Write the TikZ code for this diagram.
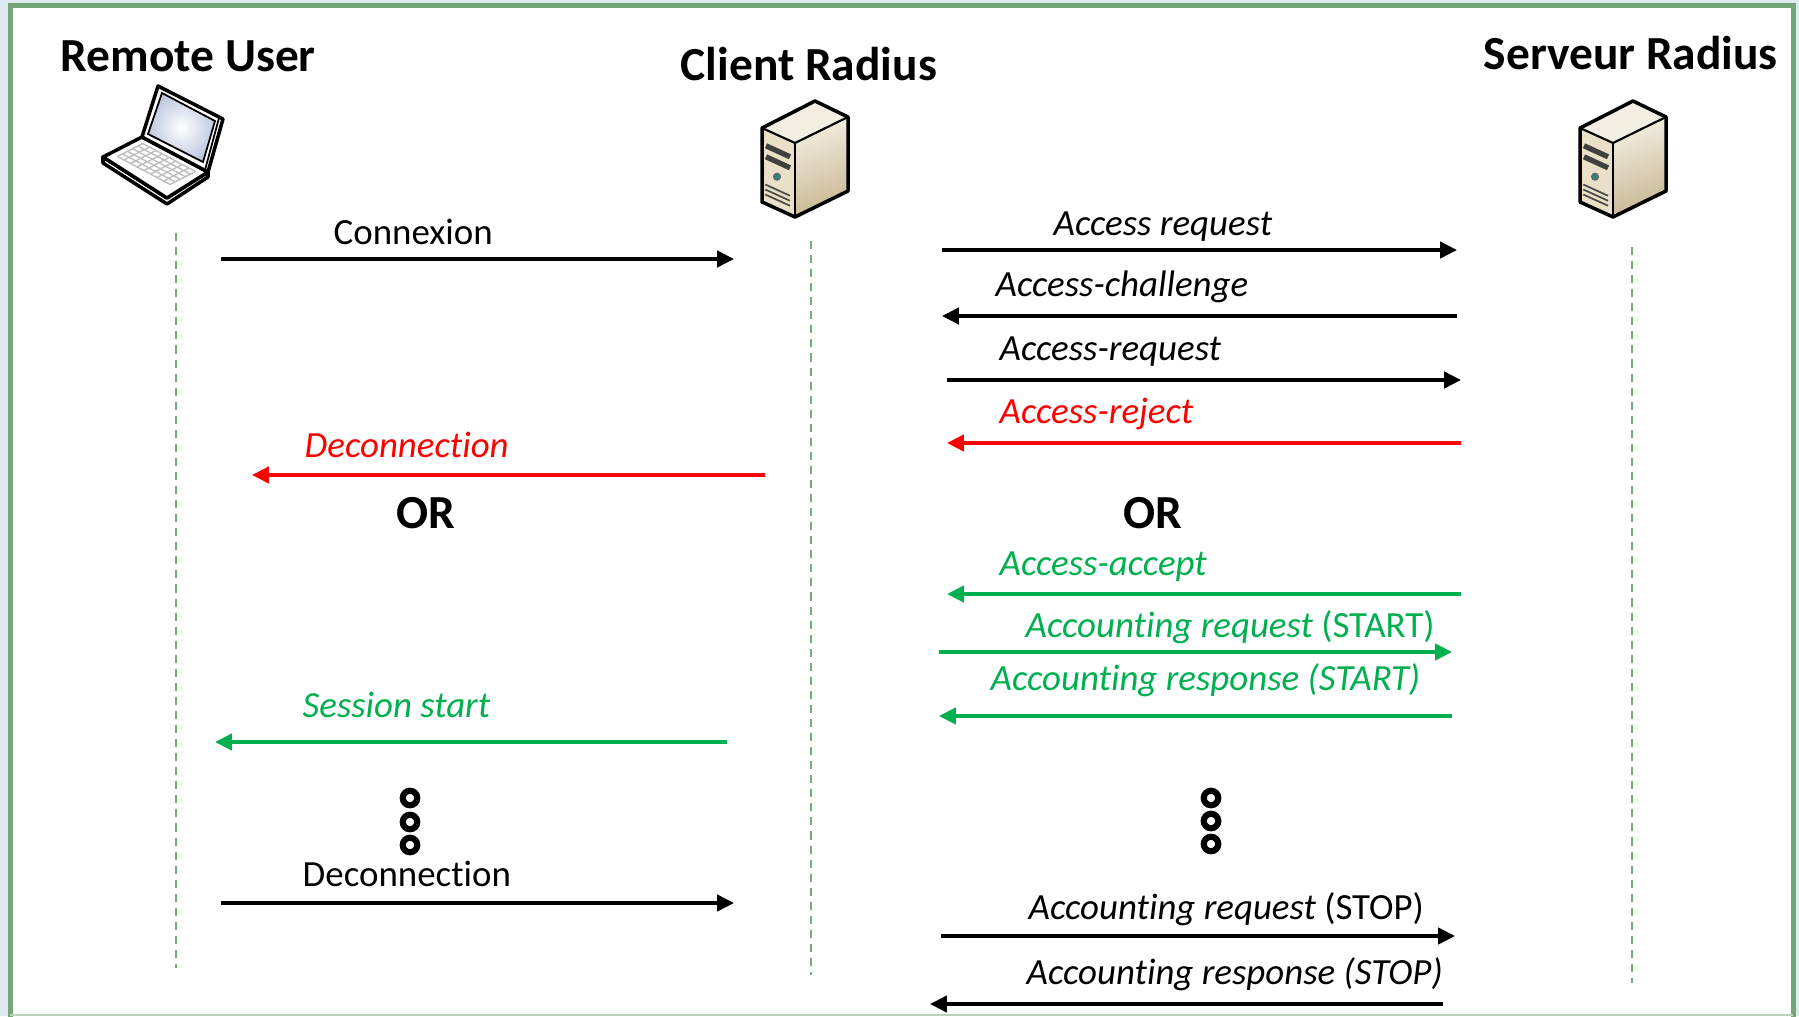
\documentclass[tikz,border=0pt]{standalone}
\usepackage{fontspec}
\setmainfont{Carlito}[Ligatures=NoCommon]
\usetikzlibrary{arrows.meta}
\pgfdeclarelayer{background}
\pgfdeclarelayer{edgelayer}
\pgfdeclarelayer{nodelayer}
\pgfsetlayers{background,edgelayer,nodelayer,main}
\definecolor{okgreen}{RGB}{0,176,80}
\definecolor{lifegreen}{RGB}{118,170,120}
\definecolor{framegreen}{RGB}{118,166,120}
\definecolor{paleblue}{RGB}{221,234,240}
\definecolor{screenblue}{RGB}{190,200,224}
\definecolor{caseside}{RGB}{200,183,146}
\definecolor{caselight}{RGB}{243,238,226}
\definecolor{casefront}{RGB}{234,224,200}
\tikzset{font=\fontsize{10.5}{12.6}\selectfont}
\tikzstyle{none}=[inner sep=0pt]
\tikzstyle{title}=[inner sep=0pt,anchor=base west,font=\fontsize{13.5}{16}\selectfont\bfseries]
\tikzstyle{orlabel}=[inner sep=0pt,anchor=base,font=\fontsize{13.5}{16}\selectfont\bfseries]
\tikzstyle{msglabel}=[inner sep=0pt,anchor=base west]
\tikzstyle{msg}=[line width=1.05pt,-{Triangle[length=4.8pt,width=4.6pt]}]
\tikzstyle{lifeline}=[lifegreen,line width=0.65pt,dash pattern=on 2.3pt off 1.7pt]
\tikzstyle{ring}=[circle,draw,line width=1.75pt,inner sep=0pt,minimum size=0.145cm]
% tower case, origin at the top corner
\tikzset{server/.pic={
	\fill[caselight] (0,0) -- (-0.53,-0.27) -- (-0.20,-0.42) -- (0.33,-0.16) -- cycle;
	\fill[casefront] (-0.53,-0.27) -- (-0.20,-0.42) -- (-0.20,-1.16) -- (-0.53,-1.01) -- cycle;
	\shade[top color=caselight,bottom color=caseside,shading angle=20] (-0.20,-0.42) -- (0.33,-0.16) -- (0.33,-0.90) -- (-0.20,-1.16) -- cycle;
	\draw[line width=1.5pt,black!75] (-0.49,-0.448) -- (-0.25,-0.558);
	\draw[line width=1.5pt,black!75] (-0.49,-0.558) -- (-0.25,-0.668);
	\filldraw[fill=teal!60!gray,draw=black!60,line width=0.3pt] (-0.38,-0.757) circle (0.035);
	\foreach \v in {0.55,0.60,0.65}
		\draw[line width=0.5pt,black!70] (-0.497,-0.285-\v) -- (-0.25,-0.3975-\v);
	\draw[line width=0.6pt] (-0.53,-0.27) -- (-0.20,-0.42) -- (0.33,-0.16);
	\draw[line width=0.6pt] (-0.20,-0.42) -- (-0.20,-1.16);
	\draw[line width=1pt,line join=round] (0,0) -- (-0.53,-0.27) -- (-0.53,-1.01) -- (-0.20,-1.16) -- (0.33,-0.90) -- (0.33,-0.16) -- cycle;
}}

\begin{document}
\begin{tikzpicture}
	\useasboundingbox (0,0) rectangle (17.99,-10.16);
	\begin{pgfonlayer}{background}
		\fill[paleblue] (0,0) rectangle (17.99,-10.16);
		\fill[white] (0.105,-0.055) rectangle (17.93,-10.16);
		\draw[framegreen,line width=0.05cm] (0.105,-10.2) -- (0.105,-0.055) -- (17.93,-0.055) -- (17.93,-10.2);
		\draw[framegreen!50,line width=0.02cm] (0.105,-10.15) -- (17.93,-10.15);
	\end{pgfonlayer}
	\begin{pgfonlayer}{nodelayer}
		% headers and icons
		\node [style=title] (h0) at (0.60,-0.71) {Remote User};
		\node [style=title] (h1) at (6.80,-0.80) {Client Radius};
		\node [style=title] (h2) at (14.83,-0.69) {Serveur Radius};
		\pic at (8.15,-1.01) {server};
		\pic at (16.33,-1.01) {server};
		% laptop
		\filldraw[fill=white,line width=1pt,line join=round] (1.03,-1.57) -- (1.67,-1.98) -- (2.08,-1.72) -- (2.08,-1.77) -- (1.67,-2.04) -- (1.03,-1.63) -- cycle;
		\filldraw[fill=white,line width=1pt,line join=round] (1.42,-1.37) -- (2.08,-1.72) -- (1.67,-1.98) -- (1.03,-1.57) -- cycle;
		\foreach \s in {0.1,0.2,...,0.9}
			\draw[black!25,line width=0.4pt] ({1.42+0.66*\s-0.39*0.15},{-1.37-0.35*\s-0.20*0.15}) -- ({1.42+0.66*\s-0.39*0.8},{-1.37-0.35*\s-0.20*0.8});
		\foreach \t in {0.15,0.28,0.41,0.54,0.67,0.8}
			\draw[black!25,line width=0.4pt] ({1.42+0.66*0.1-0.39*\t},{-1.37-0.35*0.1-0.20*\t}) -- ({1.42+0.66*0.9-0.39*\t},{-1.37-0.35*0.9-0.20*\t});
		\filldraw[fill=white,line width=1pt,line join=round] (1.58,-0.86) -- (2.23,-1.19) -- (2.08,-1.72) -- (1.42,-1.37) -- cycle;
		\shade[inner color=white,outer color=screenblue] (1.62,-0.93) -- (2.15,-1.21) -- (2.03,-1.62) -- (1.48,-1.34) -- cycle;
		\draw[line width=0.5pt] (1.62,-0.93) -- (2.15,-1.21) -- (2.03,-1.62) -- (1.48,-1.34) -- cycle;
		\draw[line width=0.5pt] (2.19,-1.18) -- (2.05,-1.70);
		% lifeline ends
		\node [style=none] (0) at (1.76,-2.33) {};
		\node [style=none] (1) at (1.76,-9.68) {};
		\node [style=none] (2) at (8.11,-2.41) {};
		\node [style=none] (3) at (8.11,-9.75) {};
		\node [style=none] (4) at (16.32,-2.47) {};
		\node [style=none] (5) at (16.32,-9.83) {};
		% message ends, user side
		\node [style=none] (10) at (2.21,-2.59) {};
		\node [style=none] (11) at (7.34,-2.59) {};
		\node [style=none] (12) at (7.65,-4.75) {};
		\node [style=none] (13) at (2.52,-4.75) {};
		\node [style=none] (14) at (7.27,-7.42) {};
		\node [style=none] (15) at (2.15,-7.42) {};
		\node [style=none] (16) at (2.21,-9.03) {};
		\node [style=none] (17) at (7.34,-9.03) {};
		% message ends, server side
		\node [style=none] (20) at (9.42,-2.50) {};
		\node [style=none] (21) at (14.57,-2.50) {};
		\node [style=none] (22) at (14.57,-3.16) {};
		\node [style=none] (23) at (9.42,-3.16) {};
		\node [style=none] (24) at (9.47,-3.80) {};
		\node [style=none] (25) at (14.61,-3.80) {};
		\node [style=none] (26) at (14.61,-4.43) {};
		\node [style=none] (27) at (9.47,-4.43) {};
		\node [style=none] (28) at (14.61,-5.94) {};
		\node [style=none] (29) at (9.47,-5.94) {};
		\node [style=none] (30) at (9.39,-6.52) {};
		\node [style=none] (31) at (14.52,-6.52) {};
		\node [style=none] (32) at (14.52,-7.16) {};
		\node [style=none] (33) at (9.39,-7.16) {};
		\node [style=none] (34) at (9.41,-9.36) {};
		\node [style=none] (35) at (14.55,-9.36) {};
		\node [style=none] (36) at (14.43,-10.04) {};
		\node [style=none] (37) at (9.30,-10.04) {};
		% labels
		\node [style=msglabel] (40) at (3.33,-2.44) {Connexion};
		\node [style=msglabel,text=red] (41) at (3.04,-4.57) {\textit{Deconnection}};
		\node [style=orlabel] (42) at (4.26,-5.28) {OR};
		\node [style=msglabel,text=okgreen] (43) at (3.02,-7.17) {\textit{Session start}};
		\node [style=msglabel] (44) at (3.02,-8.86) {Deconnection};
		\node [style=msglabel] (50) at (10.53,-2.35) {\textit{Access request}};
		\node [style=msglabel] (51) at (9.95,-2.96) {\textit{Access-challenge}};
		\node [style=msglabel] (52) at (9.99,-3.60) {\textit{Access-request}};
		\node [style=msglabel,text=red] (53) at (9.99,-4.23) {\textit{Access-reject}};
		\node [style=orlabel] (54) at (11.53,-5.28) {OR};
		\node [style=msglabel,text=okgreen] (55) at (9.99,-5.75) {\textit{Access-accept}};
		\node [style=msglabel,text=okgreen] (56) at (10.25,-6.37) {\textit{Accounting request} (START)};
		\node [style=msglabel,text=okgreen] (57) at (9.90,-6.90) {\textit{Accounting response (START)}};
		\node [style=msglabel] (58) at (10.28,-9.19) {\textit{Accounting request} (STOP)};
		\node [style=msglabel] (59) at (10.26,-9.84) {\textit{Accounting response (STOP)}};
		% waiting marks
		\node [style=ring] (60) at (4.10,-7.98) {};
		\node [style=ring] (61) at (4.10,-8.22) {};
		\node [style=ring] (62) at (4.10,-8.45) {};
		\node [style=ring] (63) at (12.11,-7.98) {};
		\node [style=ring] (64) at (12.11,-8.21) {};
		\node [style=ring] (65) at (12.11,-8.44) {};
	\end{pgfonlayer}
	\begin{pgfonlayer}{edgelayer}
		\draw [style=lifeline] (0.center) to (1.center);
		\draw [style=lifeline] (2.center) to (3.center);
		\draw [style=lifeline] (4.center) to (5.center);
		\draw [style=msg] (10.center) to (11.center);
		\draw [style=msg,red] (12.center) to (13.center);
		\draw [style=msg,okgreen] (14.center) to (15.center);
		\draw [style=msg] (16.center) to (17.center);
		\draw [style=msg] (20.center) to (21.center);
		\draw [style=msg] (22.center) to (23.center);
		\draw [style=msg] (24.center) to (25.center);
		\draw [style=msg,red] (26.center) to (27.center);
		\draw [style=msg,okgreen] (28.center) to (29.center);
		\draw [style=msg,okgreen] (30.center) to (31.center);
		\draw [style=msg,okgreen] (32.center) to (33.center);
		\draw [style=msg] (34.center) to (35.center);
		\draw [style=msg] (36.center) to (37.center);
	\end{pgfonlayer}
\end{tikzpicture}
\end{document}
